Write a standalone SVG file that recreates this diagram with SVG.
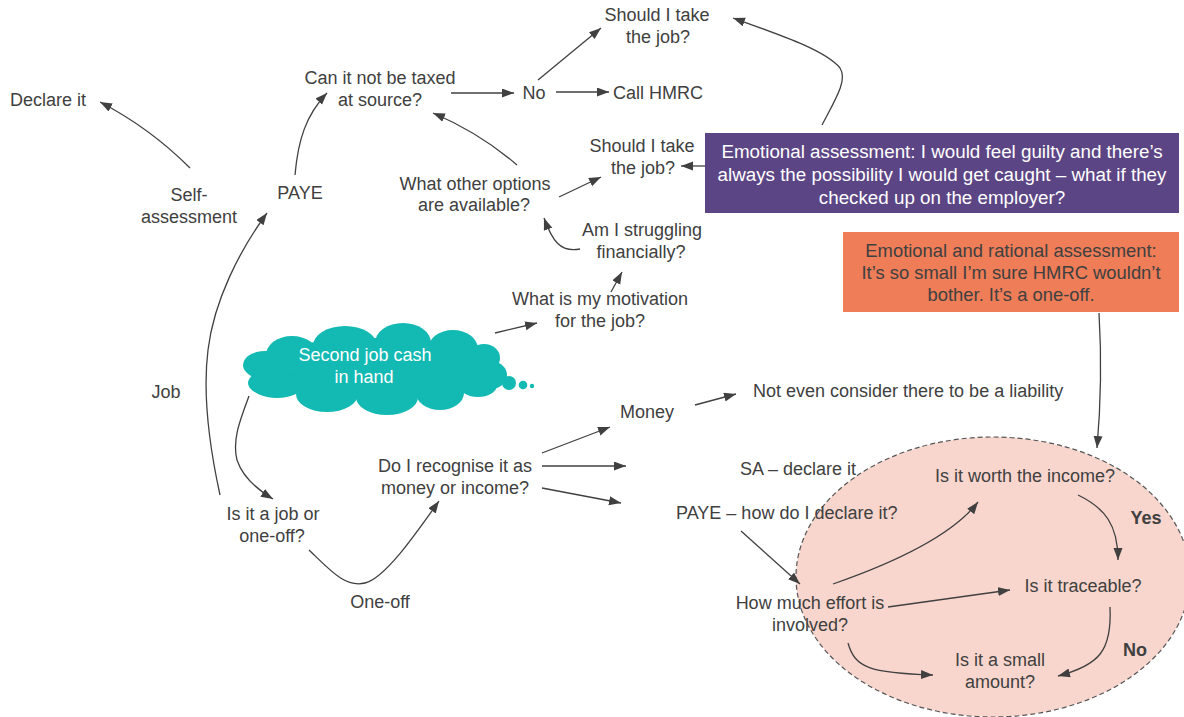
<svg xmlns="http://www.w3.org/2000/svg" width="1184" height="717" viewBox="0 0 1184 717">
<defs>
<marker id="ah" markerUnits="userSpaceOnUse" markerWidth="13" markerHeight="10" refX="12" refY="4.5" orient="auto">
<path d="M0,0 L12,4.5 L0,9 z" fill="#404040"/>
</marker>
<style>
text{font-family:"Liberation Sans",Arial,sans-serif;font-size:18px;fill:#404040;text-anchor:middle}
.w{fill:#ffffff}
.b{font-weight:bold}
.s{text-anchor:start}
.p{font-size:18.8px}
.o{font-size:18.4px}
.c{fill:none;stroke:#404040;stroke-width:1.3;marker-end:url(#ah)}
.cl{fill:#13B9B3}
</style>
</defs>
<rect width="1184" height="717" fill="#ffffff"/>

<g id="ellipse-zone">
<ellipse cx="993" cy="577" rx="197" ry="140" fill="#F9D6CD" stroke="#555555" stroke-width="1.2" stroke-dasharray="5 3"/>
</g>

<g id="cloud">
<g class="cl">
<ellipse cx="375" cy="368" rx="120" ry="30"/>
<ellipse cx="292" cy="355" rx="26" ry="19"/>
<ellipse cx="345" cy="346" rx="32" ry="20"/>
<ellipse cx="403" cy="343" rx="28" ry="20"/>
<ellipse cx="453" cy="349" rx="25" ry="19"/>
<ellipse cx="484" cy="358" rx="16" ry="14"/>
<ellipse cx="488" cy="375" rx="19" ry="15"/>
<ellipse cx="265" cy="365" rx="22" ry="14"/>
<ellipse cx="268" cy="383" rx="20" ry="12"/>
<ellipse cx="277" cy="385" rx="26" ry="13"/>
<ellipse cx="327" cy="394" rx="31" ry="18"/>
<ellipse cx="387" cy="397" rx="31" ry="18"/>
<ellipse cx="440" cy="393" rx="24" ry="17"/>
<ellipse cx="478" cy="385" rx="19" ry="12"/>
<circle cx="509" cy="383" r="7"/>
<circle cx="523" cy="385" r="4.3"/>
<circle cx="532" cy="386" r="2.2"/>
</g>
<text class="w" x="365" y="361">Second job cash</text>
<text class="w" x="364" y="383">in hand</text>
</g>

<g id="purple-box">
<rect x="705" y="133" width="474" height="80" fill="#5C4585"/>
<text class="w p" x="942" y="158">Emotional assessment: I would feel guilty and there’s</text>
<text class="w p" x="942" y="181">always the possibility I would get caught – what if they</text>
<text class="w p" x="942" y="204">checked up on the employer?</text>
</g>

<g id="orange-box">
<rect x="843" y="232" width="336" height="80" fill="#EE7D58"/>
<text class="o" x="1011" y="257">Emotional and rational assessment:</text>
<text class="o" x="1011" y="279">It’s so small I’m sure HMRC wouldn’t</text>
<text class="o" x="1011" y="301">bother. It’s a one-off.</text>
</g>

<g id="connectors">
<path class="c" d="M190,168 Q150,128 100,102"/>
<path class="c" d="M295,175 C298,140 306,115 327,93"/>
<path class="c" d="M451,93 L514,93"/>
<path class="c" d="M538,80 L601,28"/>
<path class="c" d="M556,92 L609,92"/>
<path class="c" d="M517,165 Q480,133 433,113"/>
<path class="c" d="M559,197 L601,177"/>
<path class="c" d="M705,166 L681,166"/>
<path class="c" d="M822,125 C835,100 848,80 840,68 C825,50 780,35 733,18"/>
<path class="c" d="M580,249 C560,253 552,240 544,218"/>
<path class="c" d="M611,292 L622,272"/>
<path class="c" d="M495,333 L537,323"/>
<path class="c" d="M220,495 C208,440 203,390 208,350 C214,300 240,250 267,213"/>
<path class="c" d="M249,396 C240,420 232,440 237,460 C243,478 258,490 273,499"/>
<path class="c" d="M309,550 C330,570 345,588 365,583 C385,578 415,535 439,501"/>
<path class="c" d="M542,453 L610,427"/>
<path class="c" d="M542,466 L626,466"/>
<path class="c" d="M542,488 L621,503"/>
<path class="c" d="M695,405 L736,394"/>
<path class="c" d="M741,531 L800,584"/>
<path class="c" d="M833,584 Q945,545 978,502"/>
<path class="c" d="M888,607 L1010,590"/>
<path class="c" d="M848,643 C855,668 870,673 933,675"/>
<path class="c" d="M1078,495 C1105,508 1118,525 1118,560"/>
<path class="c" d="M1110,607 C1112,650 1100,665 1058,676"/>
<path class="c" d="M1099,313 Q1103,380 1097,448"/>
</g>

<g id="n-declare"><text class="s" x="10" y="106">Declare it</text></g>
<g id="n-self"><text x="189" y="201">Self-</text><text x="189" y="223">assessment</text></g>
<g id="n-paye"><text x="300" y="199">PAYE</text></g>
<g id="n-taxed"><text x="380" y="84">Can it not be taxed</text><text x="380" y="106">at source?</text></g>
<g id="n-no"><text x="534" y="99">No</text></g>
<g id="n-call"><text class="s" x="613" y="99">Call HMRC</text></g>
<g id="n-take1"><text x="657" y="21">Should I take</text><text x="658" y="43">the job?</text></g>
<g id="n-take2"><text x="642" y="152">Should I take</text><text x="643" y="174">the job?</text></g>
<g id="n-options"><text x="475" y="190">What other options</text><text x="474" y="211">are available?</text></g>
<g id="n-struggle"><text x="642" y="236">Am I struggling</text><text x="641" y="258">financially?</text></g>
<g id="n-motivation"><text x="600" y="305">What is my motivation</text><text x="600" y="327">for the job?</text></g>
<g id="n-job"><text x="166" y="398">Job</text></g>
<g id="n-money"><text x="647" y="418">Money</text></g>
<g id="n-liability"><text class="s" x="753" y="397">Not even consider there to be a liability</text></g>
<g id="n-recognise"><text x="455" y="472">Do I recognise it as</text><text x="455" y="494">money or income?</text></g>
<g id="n-sa"><text class="s" x="740" y="475">SA – declare it</text></g>
<g id="n-payedeclare"><text class="s" x="676" y="519">PAYE – how do I declare it?</text></g>
<g id="n-jobor"><text x="273" y="520">Is it a job or</text><text x="272" y="542">one-off?</text></g>
<g id="n-oneoff"><text x="380" y="608">One-off</text></g>
<g id="n-worth"><text x="1025" y="482">Is it worth the income?</text></g>
<g id="n-yes"><text class="b" x="1146" y="524">Yes</text></g>
<g id="n-traceable"><text x="1083" y="592">Is it traceable?</text></g>
<g id="n-effort"><text x="810" y="609">How much effort is</text><text x="810" y="631">involved?</text></g>
<g id="n-no2"><text class="b" x="1135" y="656">No</text></g>
<g id="n-small"><text x="1000" y="666">Is it a small</text><text x="1000" y="688">amount?</text></g>
</svg>
